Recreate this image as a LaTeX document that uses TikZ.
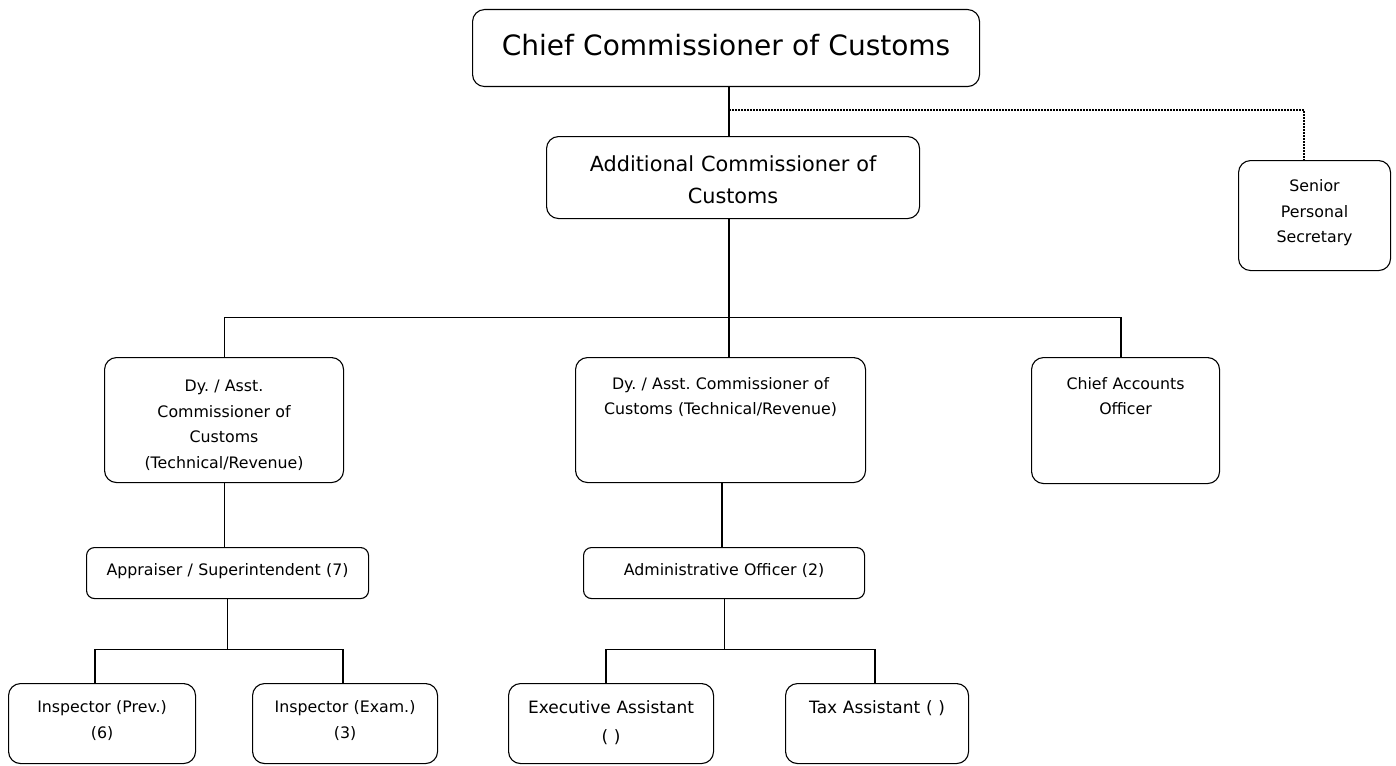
\documentclass[tikz,border=0pt]{standalone}
\usepackage{fontspec}
\setmainfont{DejaVu Sans}
\frenchspacing

\begin{document}
\begin{tikzpicture}[x=1pt,y=-1pt,line width=1.1pt,
orgbox/.style={draw,rectangle,rounded corners=12pt,inner sep=0pt,align=center,anchor=north west},
smalltext/.style={font=\fontsize{15.8}{25.5}\selectfont},
midtext/.style={font=\fontsize{17}{29}\selectfont}]

\useasboundingbox (0,0) rectangle (1396,765);

% top level
\node[orgbox,text width=507pt,text height=46pt,text depth=31pt,font=\fontsize{28}{34}\selectfont] (chief) at (472,9) {Chief Commissioner of Customs};
\node[orgbox,text width=373pt,text height=35pt,text depth=47pt,font=\fontsize{20.8}{32}\selectfont] (addl) at (546,136) {Additional Commissioner of\\Customs};
\node[orgbox,smalltext,text width=152pt,text height=31pt,text depth=79pt] (sps) at (1238,160) {Senior\\Personal\\Secretary};

% second level
\node[orgbox,smalltext,text width=239pt,text height=34pt,text depth=91pt] (dyleft) at (104,357) {Dy. / Asst.\\Commissioner of\\Customs\\(Technical/Revenue)};
\node[orgbox,smalltext,text width=290pt,text height=32pt,text depth=93pt,font=\fontsize{15.8}{24.5}\selectfont] (dymid) at (575,357) {Dy. / Asst. Commissioner of\\Customs (Technical/Revenue)};
\node[orgbox,smalltext,text width=188pt,text height=32pt,text depth=94pt,font=\fontsize{15.8}{24.5}\selectfont] (cao) at (1031,357) {Chief Accounts\\Officer};

% third level
\node[orgbox,smalltext,rounded corners=8pt,text width=282pt,text height=28pt,text depth=23pt] (appr) at (86,547) {Appraiser / Superintendent (7)};
\node[orgbox,smalltext,rounded corners=8pt,text width=281pt,text height=28pt,text depth=23pt] (admin) at (583,547) {Administrative Officer (2)};

% bottom level
\node[orgbox,text width=187pt,text height=29pt,text depth=51pt,font=\fontsize{15.8}{26}\selectfont] (insprev) at (8,683) {Inspector (Prev.)\\(6)};
\node[orgbox,text width=185pt,text height=29pt,text depth=51pt,font=\fontsize{15.8}{26}\selectfont] (insexam) at (252,683) {Inspector (Exam.)\\(3)};
\node[orgbox,midtext,text width=205pt,text height=30pt,text depth=50pt] (exec) at (508,683) {Executive Assistant\\( )};
\node[orgbox,midtext,text width=183pt,text height=30pt,text depth=50pt] (tax) at (785,683) {Tax Assistant ( )};

% connectors
\coordinate (tap) at (729,110);
\draw (chief.south -| tap) -- (tap |- addl.north);
\draw[densely dotted,line width=2pt] (tap) -| (1304,160) coordinate (spstop);
\draw (addl.south -| tap) -- ++(0,98) coordinate (hub);
\draw (hub) -| (dyleft.north);
\draw (hub) -- (hub |- dymid.north);
\draw (hub) -| (1121,357) coordinate (caotop);
\draw (dyleft.south) -- (dyleft.south |- appr.north);
\draw (appr.south) -- ++(0,50) coordinate (apprhub);
\draw (apprhub) -| (95,683) coordinate (prevtop);
\draw (apprhub) -| (343,683) coordinate (examtop);
\draw (722,482) coordinate (dymidbot) -- (dymidbot |- admin.north);
\draw (admin.south) -- ++(0,50) coordinate (adminhub);
\draw (adminhub) -| (606,683) coordinate (exectop);
\draw (adminhub) -| (875,683) coordinate (taxtop);
\end{tikzpicture}
\end{document}
